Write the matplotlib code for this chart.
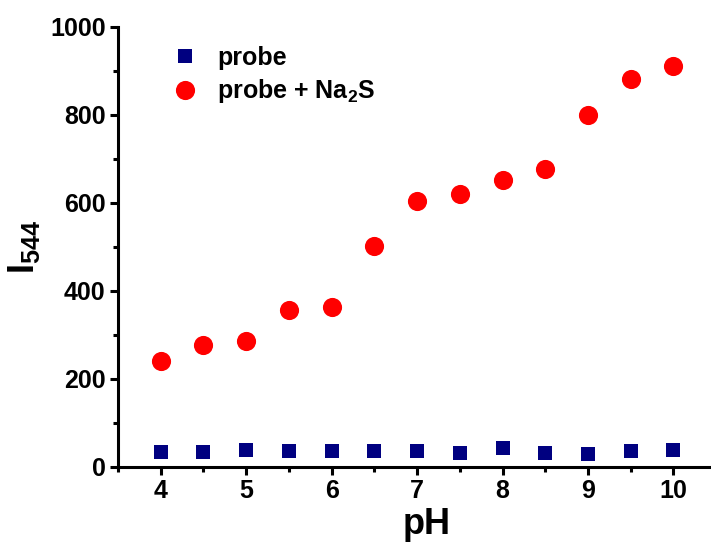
import matplotlib
matplotlib.use('Agg')
import matplotlib.pyplot as plt
from matplotlib.ticker import MultipleLocator

plt.rcParams['font.family'] = ['Liberation Sans', 'DejaVu Sans']
plt.rcParams['font.weight'] = 'bold'
plt.rcParams['mathtext.fontset'] = 'custom'
plt.rcParams['mathtext.rm'] = 'Liberation Sans:bold'
plt.rcParams['mathtext.it'] = 'Liberation Sans:bold'
plt.rcParams['mathtext.bf'] = 'Liberation Sans:bold'

# pH values
ph = [4, 4.5, 5, 5.5, 6, 6.5, 7, 7.5, 8, 8.5, 9, 9.5, 10]
# fluorescence intensity at 544 nm
probe = [35, 34, 39, 37, 37, 37, 36, 32, 44, 31, 30, 37, 39]
probe_na2s = [242, 277, 286, 357, 364, 503, 605, 620, 652, 678, 799, 881, 911]

fig = plt.figure(figsize=(7.11, 5.47), dpi=100)
ax = fig.add_axes([118/711, 80/547, 1 - 118/711, 440/547])

ax.plot(ph, probe, 's', color='#000080', markersize=9.4, markeredgewidth=0,
        label='probe')
ax.plot(ph, probe_na2s, 'o', color='#ff0000', markersize=13.8, markeredgewidth=0,
        label='probe + Na$_2$S')

ax.set_xlim(3.5, 10.44)
ax.set_ylim(0, 1000)
ax.xaxis.set_major_locator(MultipleLocator(1))
ax.xaxis.set_minor_locator(MultipleLocator(0.5))
ax.yaxis.set_major_locator(MultipleLocator(200))
ax.yaxis.set_minor_locator(MultipleLocator(100))

for s in ['top', 'right']:
    ax.spines[s].set_visible(False)
for s in ['left', 'bottom']:
    ax.spines[s].set_linewidth(2.2)
    ax.spines[s].set_capstyle('projecting')

ax.tick_params(which='major', direction='out', length=6, width=2.2,
               labelsize=18, pad=3)
ax.tick_params(which='minor', direction='out', length=3.5, width=2.2)
for lab in ax.get_xticklabels() + ax.get_yticklabels():
    lab.set_fontweight('bold')

ax.set_xlabel('pH', fontsize=26, fontweight='bold')
ax.xaxis.set_label_coords(0.521, -0.09)
ax.set_ylabel('I$_{544}$', fontsize=26, fontweight='bold', labelpad=6)

leg = ax.legend(loc='upper left', bbox_to_anchor=(0.075, 0.98), frameon=False,
                fontsize=18, handletextpad=0.8, labelspacing=0.3,
                handlelength=1.0, borderaxespad=0)
for t in leg.get_texts():
    t.set_fontweight('bold')

fig.savefig('out.png', dpi=100)
